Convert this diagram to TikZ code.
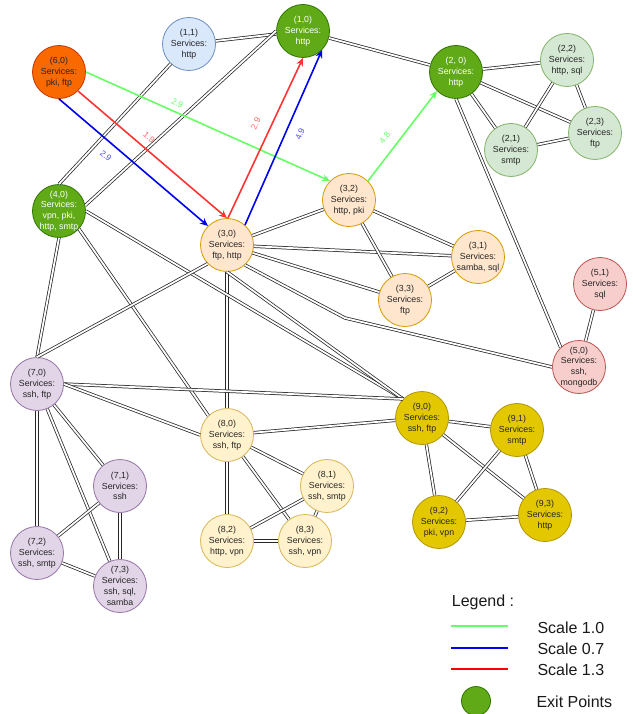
\documentclass[tikz,border=0pt]{standalone}
\usepackage{fontspec}
\setmainfont{Liberation Sans}
\usepackage{xcolor}
\usetikzlibrary{arrows.meta,positioning}
\definecolor{ExitFill}{HTML}{60A917}
\definecolor{ExitLine}{HTML}{2D7600}
\definecolor{OrangeFill}{HTML}{FA6800}
\definecolor{OrangeLine}{HTML}{C73500}
\definecolor{SkyFill}{HTML}{DAE8FC}
\definecolor{SkyLine}{HTML}{6C8EBF}
\definecolor{MintFill}{HTML}{D5E8D4}
\definecolor{MintLine}{HTML}{82B366}
\definecolor{PeachFill}{HTML}{FFE6CC}
\definecolor{PeachLine}{HTML}{D79B00}
\definecolor{RoseFill}{HTML}{F8CECC}
\definecolor{RoseLine}{HTML}{B85450}
\definecolor{LilacFill}{HTML}{E1D5E7}
\definecolor{LilacLine}{HTML}{9673A6}
\definecolor{CreamFill}{HTML}{FFF2CC}
\definecolor{CreamLine}{HTML}{D6B656}
\definecolor{GoldFill}{HTML}{E3C800}
\definecolor{GoldLine}{HTML}{B09500}
\definecolor{PathGreen}{HTML}{66FF66}
\definecolor{PathBlue}{HTML}{0000F0}
\definecolor{PathRed}{HTML}{FF3333}
\definecolor{TagBlue}{HTML}{4D4DFF}
\definecolor{TagRed}{HTML}{FF6666}

\begin{document}
\begin{tikzpicture}[x=1pt, y=-1pt, every node/.style={font=\fontsize{8.8}{10.8}\selectfont, align=center, text=black!85}, host/.style={circle, minimum size=53pt, inner sep=-6pt, line width=0.8pt}, exit/.style={host, draw=ExitLine, fill=ExitFill, text=white}, orange/.style={host, draw=OrangeLine, fill=OrangeFill}, sky/.style={host, draw=SkyLine, fill=SkyFill}, mint/.style={host, draw=MintLine, fill=MintFill}, peach/.style={host, draw=PeachLine, fill=PeachFill}, rose/.style={host, draw=RoseLine, fill=RoseFill}, lilac/.style={host, draw=LilacLine, fill=LilacFill}, cream/.style={host, draw=CreamLine, fill=CreamFill}, gold/.style={host, draw=GoldLine, fill=GoldFill}, link/.style={draw=black!85, line width=0.75pt, double=white, double distance=1.8pt}, route/.style={-{Stealth[length=8pt,width=7pt]}, line width=1.6pt}, cost/.style={font=\fontsize{8.5}{9}\selectfont, sloped, inner sep=0pt}, legendtext/.style={font=\fontsize{16}{19}\selectfont, text=black!90}]
\useasboundingbox (0,0) rectangle (632,714);
% hosts
\node[sky] (n11) at (189,44) {(1,1)\\Services:\\http};
\node[exit] (n10) at (303,31) {(1,0)\\Services:\\http};
\node[orange] (n60) at (59,72) {(6,0)\\Services:\\pki, ftp};
\node[exit] (n40) at (59,211) {(4,0)\\Services:\\vpn, pki,\\http, smtp};
\node[exit] (n20) at (456,72) {(2, 0)\\Services:\\http};
\node[mint] (n22) at (567,60) {(2,2)\\Services:\\http, sql};
\node[mint] (n23) at (595,133) {(2,3)\\Services:\\ftp};
\node[mint] (n21) at (511,150) {(2,1)\\Services:\\smtp};
\node[peach] (n30) at (227,245) {(3,0)\\Services:\\ftp, http};
\node[peach] (n32) at (349,200) {(3,2)\\Services:\\http, pki};
\node[peach] (n31) at (478,257) {(3,1)\\Services:\\samba, sql};
\node[peach] (n33) at (405,300) {(3,3)\\Services:\\ftp};
\node[rose] (n51) at (600,284) {(5,1)\\Services:\\sql};
\node[rose] (n50) at (579,367) {(5,0)\\Services:\\ssh,\\mongodb};
\node[lilac] (n70) at (37,384) {(7,0)\\Services:\\ssh, ftp};
\node[lilac] (n71) at (120,486) {(7,1)\\Services:\\ssh};
\node[lilac] (n72) at (37,553) {(7,2)\\Services:\\ssh, smtp};
\node[lilac] (n73) at (120,586) {(7,3)\\Services:\\ssh, sql,\\samba};
\node[cream] (n80) at (227,435) {(8,0)\\Services:\\ssh, ftp};
\node[cream] (n81) at (327,486) {(8,1)\\Services:\\ssh, smtp};
\node[cream] (n82) at (227,541) {(8,2)\\Services:\\http, vpn};
\node[cream] (n83) at (305,541) {(8,3)\\Services:\\ssh, vpn};
\node[gold] (n90) at (422,418) {(9,0)\\Services:\\ssh, ftp};
\node[gold] (n91) at (517,430) {(9,1)\\Services:\\smtp};
\node[gold] (n92) at (439,522) {(9,2)\\Services:\\pki, vpn};
\node[gold] (n93) at (545,515) {(9,3)\\Services:\\http};
\coordinate (bend) at (345,318);
% links
\foreach \x/\y in {n11/n10,n10/n20,n20/n22,n20/n23,n20/n21,n22/n21,n22/n23,n21/n23,n51/n50,n30/n32,n30/n31,n30/n33,n32/n31,n32/n33,n33/n31,n30/n80,n80/n90,n80/n81,n80/n82,n80/n83,n82/n83,n82/n81,n81/n83,n90/n91,n90/n92,n90/n93,n91/n92,n91/n93,n92/n93,n70/n71,n70/n72,n70/n73,n71/n72,n71/n73,n72/n73}{\draw[link] (\x)--(\y);}
\draw[link] (n11) -- (n40.north);
\draw[link] (n10.west) -- (n40.12);
\draw[link] (n40.east) -- (n90.135);
\draw[link] (n40.south) -- (n70.north);
\draw[link] (n40.-42) -- (n80.134);
\draw[link] (n30.-136) -- (n70.north);
\draw[link] (n30.south) -- (n90.135);
\draw[link] (n70.east) -- (n90.135);
\draw[link] (n70.east) -- (n80.west);
\draw[link] (n30.-48) -- (bend) -- (n50.west);
\draw[link] (n20.south) -- (n50.133);
% routes
\draw[route, PathGreen] (n60.east) -- node[cost, above=5pt, pos=0.36, text=PathGreen] {2.9} (n32.135);
\draw[route, PathGreen] (n32.45) -- node[cost, above=9pt, pos=0.39, text=PathGreen] {4.8} (n20.-135);
\draw[route, PathBlue] (n60.south) -- node[cost, below=9pt, pos=0.37, text=TagBlue] {2.9} (n30.135);
\draw[route, PathBlue] (n30.48) -- node[cost, below=10pt, pos=0.55, text=TagBlue] {4.9} (n10.-45);
\draw[route, PathRed] (n60.-45) -- node[cost, above=7pt, pos=0.43, text=TagRed] {1.9} (n30.north);
\draw[route, PathRed] (n30.88) -- node[cost, above=11pt, pos=0.55, text=TagRed] {2.9} (n10.south);
% legend
\node[legendtext] (legend) at (483,602) {Legend :};
\coordinate (g1) at (451,626); \coordinate (g2) at (508,626);
\coordinate (b1) at (451,648); \coordinate (b2) at (508,648);
\coordinate (r1) at (451,669); \coordinate (r2) at (508,669);
\draw[PathGreen, line width=1.5pt] (g1) -- (g2);
\draw[PathBlue, line width=1.5pt] (b1) -- (b2);
\draw[red, line width=1.5pt] (r1) -- (r2);
\node[legendtext, anchor=west] (s10) at (534,627.5) {Scale 1.0};
\node[legendtext, anchor=west] (s07) at (534,648.5) {Scale 0.7};
\node[legendtext, anchor=west] (s13) at (534,669.5) {Scale 1.3};
\node[exit, minimum size=29pt] (exitkey) at (476,701) {};
\node[legendtext, anchor=west] (exittext) at (533,701.5) {Exit Points};
\end{tikzpicture}
\end{document}
